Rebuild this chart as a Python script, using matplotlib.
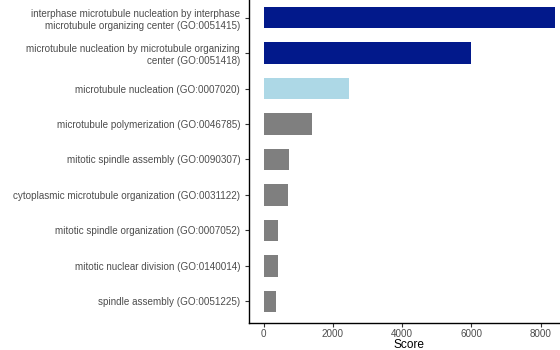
import matplotlib
matplotlib.use("Agg")
import matplotlib.pyplot as plt

terms = [
    "interphase microtubule nucleation by interphase\nmicrotubule organizing center (GO:0051415)",
    "microtubule nucleation by microtubule organizing\ncenter (GO:0051418)",
    "microtubule nucleation (GO:0007020)",
    "microtubule polymerization (GO:0046785)",
    "mitotic spindle assembly (GO:0090307)",
    "cytoplasmic microtubule organization (GO:0031122)",
    "mitotic spindle organization (GO:0007052)",
    "mitotic nuclear division (GO:0140014)",
    "spindle assembly (GO:0051225)",
]
scores = [8404, 5996, 2455, 1404, 731, 702, 404, 404, 355]
groups = ["top", "top", "mid", "rest", "rest", "rest", "rest", "rest", "rest"]
group_colors = {"top": "#02198B", "mid": "#ADD8E6", "rest": "#7F7F7F"}
xticks = [0, 2000, 4000, 6000, 8000]

plt.rcParams["font.family"] = ["Liberation Sans", "DejaVu Sans"]

fig = plt.figure(figsize=(5.6, 3.5), dpi=100)
W, H = 560, 350
left_px, right_px = 249.2, 569.2
top_px, bottom_px = -3.6, 322.6
ax = fig.add_axes([left_px / W, (H - bottom_px) / H,
                   (right_px - left_px) / W, (bottom_px - top_px) / H])

n = len(terms)
ypos = [n - i for i in range(n)]
ax.barh(ypos, scores, height=0.6,
        color=[group_colors[g] for g in groups],
        edgecolor="none")

xmax = max(scores)
ax.set_xlim(-0.05 * xmax, 1.05 * xmax)
ax.set_ylim(0.4, n + 0.6)

ax.set_yticks(ypos)
ax.set_yticklabels(terms, fontsize=7.15, color="#4D4D4D", linespacing=1.25)
ax.set_xticks(xticks)
ax.set_xticklabels([str(t) for t in xticks], fontsize=7.15, color="#4D4D4D")
ax.set_xlabel("Score", fontsize=8.6, color="black", labelpad=0)

for s in ["top", "right"]:
    ax.spines[s].set_visible(False)
for s in ["left", "bottom"]:
    ax.spines[s].set_linewidth(1.0)
    ax.spines[s].set_color("black")
ax.tick_params(axis="both", length=3, width=0.8, color="#333333")
ax.tick_params(axis="y", pad=3.5)
ax.tick_params(axis="x", pad=1.8)

fig.savefig("out.png", dpi=100)
